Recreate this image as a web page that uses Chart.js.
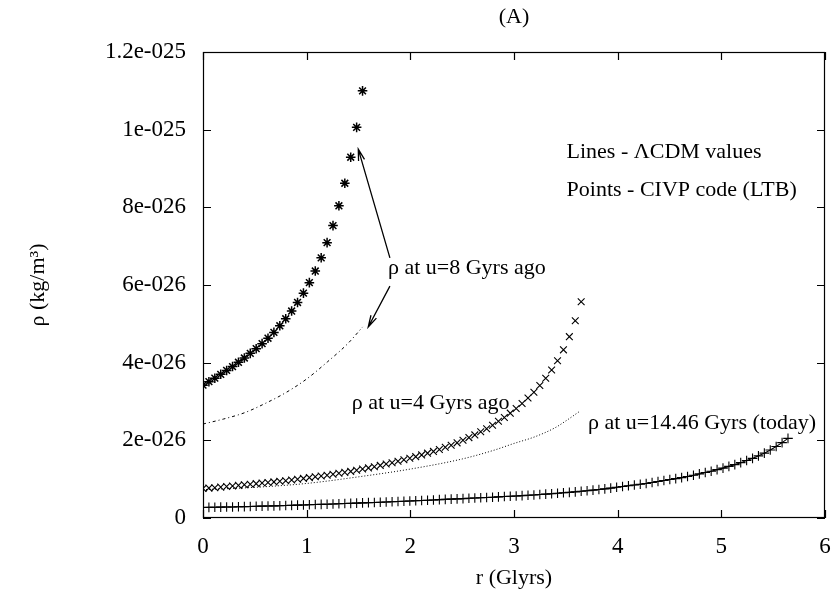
<!DOCTYPE html>
<html><head><meta charset="utf-8">
<script src="https://cdn.jsdelivr.net/npm/chart.js@4/dist/chart.umd.min.js"></script>
<style>html,body{margin:0;padding:0;background:#fff}canvas{display:block}</style>
</head><body>
<canvas id="c" width="838" height="598"></canvas>
<script>
// r grid (Glyrs) shared by the CIVP point series
const rGrid = [0.000,0.057,0.114,0.171,0.228,0.285,0.342,0.399,0.456,0.513,
  0.570,0.627,0.684,0.741,0.798,0.855,0.912,0.969,1.026,1.083,
  1.140,1.197,1.254,1.311,1.368,1.425,1.482,1.539,1.596,1.653,
  1.710,1.767,1.824,1.881,1.938,1.995,2.052,2.109,2.166,2.223,
  2.280,2.337,2.394,2.451,2.508,2.565,2.622,2.679,2.736,2.793,
  2.850,2.907,2.964,3.021,3.078,3.135,3.192,3.249,3.306,3.363,
  3.420,3.477,3.534,3.591,3.648,3.705,3.762,3.819,3.876,3.933,
  3.990,4.047,4.104,4.161,4.218,4.275,4.332,4.389,4.446,4.503,
  4.560,4.617,4.674,4.731,4.788,4.845,4.902,4.959,5.016,5.073,
  5.130,5.187,5.244,5.301,5.358,5.415,5.472,5.529,5.586,5.643];

// densities in units of 1e-27 kg/m^3
const civp8 = [34.2,35.1,36.0,37.0,38.0,39.0,40.1,41.2,42.4,43.6,
  44.9,46.3,47.8,49.5,51.3,53.3,55.5,57.9,60.6,63.6,
  67.0,70.9,75.3,80.4,86.2,92.9,100.6,110.0];
const civp4 = [7.6,7.7,7.8,7.95,8.1,8.25,8.4,8.55,8.7,8.85,
  9.0,9.15,9.3,9.45,9.6,9.8,10.0,10.2,10.4,10.6,
  10.8,11.0,11.25,11.5,11.75,12.0,12.3,12.6,12.9,13.2,
  13.55,13.9,14.25,14.6,15.0,15.4,15.8,16.25,16.7,17.15,
  17.65,18.2,18.75,19.35,20.0,20.7,21.4,22.2,23.0,23.9,
  24.9,25.9,27.0,28.2,29.5,30.9,32.4,34.1,36.0,38.1,
  40.5,43.3,46.7,50.8,55.7];
const civpToday = [2.70,2.73,2.76,2.79,2.82,2.85,2.89,2.93,2.97,3.01,
  3.05,3.09,3.13,3.17,3.22,3.26,3.31,3.36,3.41,3.46,
  3.51,3.56,3.61,3.66,3.72,3.77,3.83,3.89,3.95,4.01,
  4.07,4.13,4.19,4.25,4.31,4.37,4.44,4.51,4.58,4.65,
  4.72,4.79,4.86,4.93,5.00,5.07,5.14,5.21,5.28,5.36,
  5.44,5.52,5.60,5.68,5.76,5.85,5.94,6.04,6.14,6.25,
  6.37,6.49,6.61,6.74,6.88,7.02,7.17,7.33,7.50,7.70,
  7.90,8.10,8.30,8.50,8.70,8.90,9.15,9.40,9.65,9.90,
  10.15,10.40,10.70,11.00,11.35,11.70,12.05,12.45,12.85,13.30,
  13.75,14.25,14.80,15.35,16.00,16.70,17.50,18.40,19.40,20.50];

// LambdaCDM curves
const lcdm8R = [0, 0.2, 0.4, 0.6, 0.8, 1.0, 1.2, 1.4, 1.54];
const lcdm8  = [24.2, 25.5, 27.1, 29.5, 32.3, 35.8, 40.2, 45.0, 49.2];
const lcdm4R = [0, 0.5, 1.0, 1.5, 2.0, 2.5, 2.8, 3.0, 3.2, 3.4, 3.5, 3.63];
const lcdm4  = [7.3, 7.9, 8.9, 10.6, 12.6, 15.2, 17.4, 19.2, 20.9, 23.3, 25.0, 27.4];

const xTickLabels = ['0','1','2','3','4','5','6'];
const yTickLabels = ['0','2e-026','4e-026','6e-026','8e-026','1e-025','1.2e-025'];

const FONT = "'Liberation Serif','Times New Roman',serif";
const pts = (xs, ys) => ys.map((y, i) => ({x: xs[i], y: y}));

const bgPlugin = {
  id: 'bg',
  beforeDraw(chart) {
    const c = chart.ctx; c.save(); c.fillStyle = '#fff';
    c.fillRect(0, 0, chart.width, chart.height); c.restore();
  }
};

const framePlugin = {
  id: 'frame',
  afterDraw(chart) {
    const c = chart.ctx, a = chart.chartArea, sx = chart.scales.x, sy = chart.scales.y;
    c.save();
    c.strokeStyle = '#000'; c.lineWidth = 1.2;
    c.strokeRect(a.left + 0.5, a.top + 0.5, a.right - a.left - 1, a.bottom - a.top - 1);
    const L = 8;
    c.beginPath();
    sx.ticks.forEach(t => {
      const px = Math.round(sx.getPixelForValue(t.value)) + 0.5;
      c.moveTo(px, a.bottom); c.lineTo(px, a.bottom - L);
      c.moveTo(px, a.top); c.lineTo(px, a.top + L);
    });
    sy.ticks.forEach(t => {
      const py = Math.round(sy.getPixelForValue(t.value)) + 0.5;
      c.moveTo(a.left, py); c.lineTo(a.left + L, py);
      c.moveTo(a.right, py); c.lineTo(a.right - L, py);
    });
    c.stroke();
    c.restore();
  }
};

const annotPlugin = {
  id: 'annot',
  afterDraw(chart) {
    const c = chart.ctx, sx = chart.scales.x, sy = chart.scales.y, a = chart.chartArea;
    const X = v => sx.getPixelForValue(v), Y = v => sy.getPixelForValue(v);
    c.save();
    c.fillStyle = '#000'; c.strokeStyle = '#000';
    c.font = '22px ' + FONT;
    c.textBaseline = 'middle'; c.textAlign = 'center';
    c.fillText('(A)', (a.left + a.right) / 2, 17);
    c.textAlign = 'left';
    c.fillText('Lines - \u039BCDM values', X(3.507), Y(94.3));
    c.fillText('Points - CIVP code (LTB)', X(3.507), Y(84.5));
    c.fillText('\u03C1 at u=8 Gyrs ago', X(1.784), Y(64.4));
    c.fillText('\u03C1 at u=4 Gyrs ago', X(1.434), Y(29.6));
    c.fillText('\u03C1 at u=14.46 Gyrs (today)', X(3.713), Y(24.5));
    const arrow = (x0, y0, x1, y1) => {
      const px0 = X(x0), py0 = Y(y0), px1 = X(x1), py1 = Y(y1);
      const ang = Math.atan2(py1 - py0, px1 - px0), h = 12, w = 0.26;
      c.lineWidth = 1.3;
      c.beginPath();
      c.moveTo(px0, py0); c.lineTo(px1, py1);
      c.moveTo(px1 - h * Math.cos(ang - w), py1 - h * Math.sin(ang - w));
      c.lineTo(px1, py1);
      c.lineTo(px1 - h * Math.cos(ang + w), py1 - h * Math.sin(ang + w));
      c.stroke();
    };
    arrow(1.803, 67.0, 1.498, 95.0);
    arrow(1.803, 59.7, 1.594, 49.2);
    c.restore();
  }
};

new Chart(document.getElementById('c'), {
  type: 'scatter',
  data: {
    datasets: [
      { label: 'CIVP 8 Gyrs ago', data: pts(rGrid, civp8), pointStyle: 'star', pointRadius: 4.8,
        borderColor: '#000', backgroundColor: '#000', borderWidth: 1.5, showLine: false },
      { label: 'CIVP 4 Gyrs ago', data: pts(rGrid, civp4), pointStyle: 'crossRot', pointRadius: 4.8,
        borderColor: '#000', backgroundColor: '#000', borderWidth: 1.1, showLine: false },
      { label: 'CIVP / \u039BCDM today', data: pts(rGrid, civpToday), pointStyle: 'cross', pointRadius: 4.8,
        borderColor: '#000', backgroundColor: '#000', borderWidth: 1.1, showLine: true, tension: 0 },
      { label: '\u039BCDM 8 Gyrs ago', data: pts(lcdm8R, lcdm8), pointRadius: 0, showLine: true,
        borderColor: '#000', borderWidth: 1, borderDash: [3, 3, 1, 3], cubicInterpolationMode: 'monotone' },
      { label: '\u039BCDM 4 Gyrs ago', data: pts(lcdm4R, lcdm4), pointRadius: 0, showLine: true,
        borderColor: '#000', borderWidth: 1, borderDash: [1, 2], cubicInterpolationMode: 'monotone' }
    ]
  },
  options: {
    responsive: false, animation: false, devicePixelRatio: 1,
    layout: { padding: { top: 52, right: 13, left: 0, bottom: 0 } },
    plugins: { legend: { display: false }, tooltip: { enabled: false }, title: { display: false } },
    scales: {
      x: {
        type: 'linear', min: 0, max: 6,
        grid: { display: false, drawTicks: false }, border: { display: false },
        ticks: { stepSize: 1, color: '#000', font: { family: FONT, size: 23 }, padding: 15,
          callback: v => xTickLabels[Math.round(v)] },
        title: { display: true, text: 'r (Glyrs)', color: '#000', font: { family: FONT, size: 22 },
          padding: { top: 0, bottom: 7 } },
        afterFit(s) { s.height = 80; s.paddingLeft = 0; s.paddingRight = 0; }
      },
      y: {
        type: 'linear', min: 0, max: 120,
        grid: { display: false, drawTicks: false }, border: { display: false },
        ticks: { stepSize: 20, color: '#000', font: { family: FONT, size: 23 }, padding: 17,
          callback: v => yTickLabels[Math.round(v / 20)] },
        title: { display: true, text: '\u03C1 (kg/m\u00B3)', color: '#000', font: { family: FONT, size: 22 },
          padding: { top: 25, bottom: 0 } },
        afterFit(s) { s.width = 203; s.paddingTop = 0; s.paddingBottom = 0; }
      }
    }
  },
  plugins: [bgPlugin, framePlugin, annotPlugin]
});
</script>
</body></html>
